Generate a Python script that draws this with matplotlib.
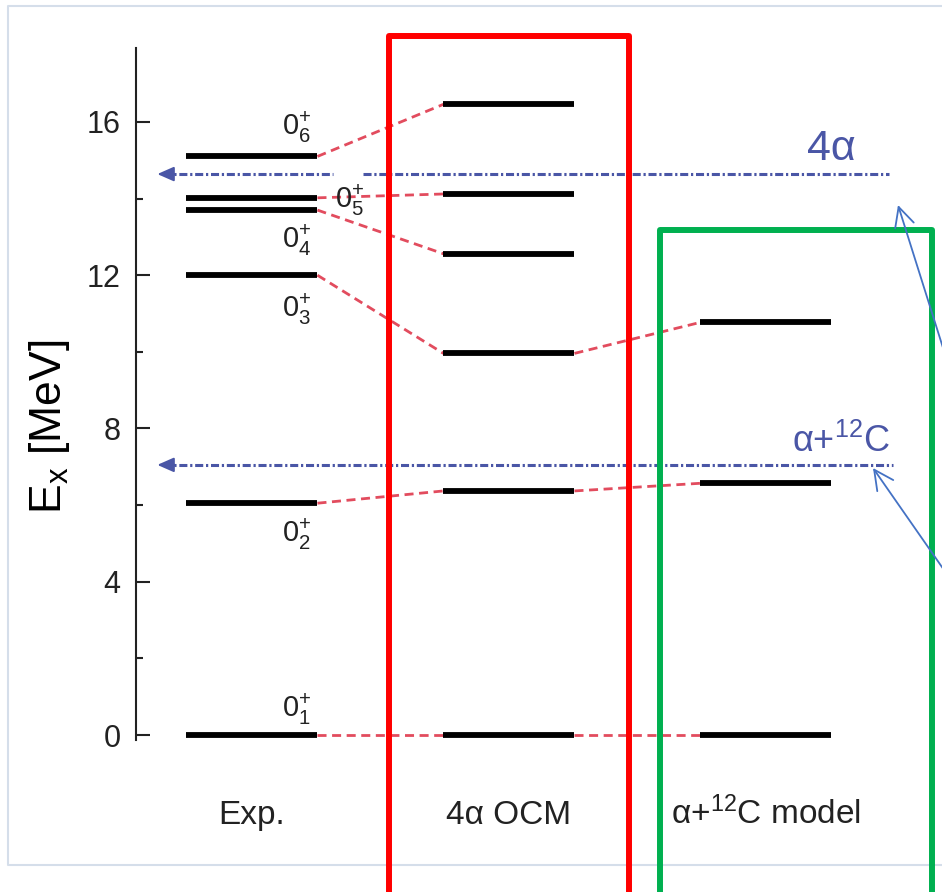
import matplotlib
matplotlib.use('Agg')
import matplotlib.pyplot as plt
from matplotlib import font_manager
from matplotlib.ticker import MultipleLocator

# 0+ states of 16O, excitation energy in MeV
exp_levels = [0.0, 6.05, 12.0, 13.7, 14.02, 15.1]
exp_names = [r'$0^{+}_{1}$', r'$0^{+}_{2}$', r'$0^{+}_{3}$',
             r'$0^{+}_{4}$', r'$0^{+}_{5}$', r'$0^{+}_{6}$']
ocm_levels = [0.0, 6.37, 9.96, 12.56, 14.12, 16.46]
model_levels = [0.0, 6.57, 10.77]
columns = ['Exp.', '4α OCM', r'α+$^{12}$C model']

thresholds = [14.64, 7.05]
threshold_names = ['4α', r'α+$^{12}$C']

# fonts: narrow sans if there is one
names = {f.name for f in font_manager.fontManager.ttflist}
narrow = 'Liberation Sans Narrow' if 'Liberation Sans Narrow' in names else 'Liberation Sans'
plt.rcParams['font.family'] = [narrow, 'DejaVu Sans']
plt.rcParams['mathtext.fontset'] = 'custom'
plt.rcParams['mathtext.rm'] = narrow
plt.rcParams['mathtext.it'] = narrow + ':italic'
plt.rcParams['lines.scale_dashes'] = False

red_dash = '#e24c5e'
thr_blue = '#4a56a6'
w = 0.255  # half width of a level bar

fig = plt.figure(figsize=(9.42, 8.92), dpi=100)
ax = fig.add_axes([136 / 942, 152 / 892, 806 / 942, 692 / 892])
ax.set_xlim(-0.451, 2.685)
ax.set_ylim(-0.13, 17.93)

# level bars
for col, lev in enumerate([exp_levels, ocm_levels, model_levels]):
    ax.hlines(lev, col - w, col + w, color='black', lw=4.2, zorder=3)

# correspondence lines
for a, b in zip(exp_levels, ocm_levels):
    ax.plot([w, 1 - w], [a, b], color=red_dash, lw=2.0, dashes=(6.5, 4), zorder=2)
for a, b in zip(ocm_levels, model_levels):
    ax.plot([1 + w, 2 - w], [a, b], color=red_dash, lw=2.0, dashes=(6.5, 4), zorder=2)

# state labels of the experimental levels (dx from column, dy from level)
name_pos = [(0.117, 0.47), (0.117, -1.01), (0.117, -1.09),
            (0.117, -0.98), (0.323, -0.26), (0.117, 0.56)]
for lev, name, (dx, dy) in zip(exp_levels, exp_names, name_pos):
    ax.text(dx, lev + dy, name, fontsize=21, ha='left', va='baseline', color='#222222')

# thresholds
thr_segments = [[(-0.345, 0.315), (0.432, 2.479)], [(-0.345, 2.494)]]
thr_text_pos = [(2.16, 0.37), (2.101, 0.34)]
thr_sizes = [31, 26]
for e, name, segs, (tx, dy), fs in zip(thresholds, threshold_names, thr_segments,
                                       thr_text_pos, thr_sizes):
    for x0, x1 in segs:
        ax.plot([x0, x1], [e, e], color=thr_blue, lw=2.2,
                dashes=(5.8, 2.0, 1.6, 2.0), zorder=2)
    ax.annotate('', xy=(-0.368, e), xytext=(-0.30, e),
                arrowprops=dict(arrowstyle='-|>,head_length=0.5,head_width=0.22',
                                mutation_scale=20, color=thr_blue, lw=1.5,
                                shrinkA=0, shrinkB=0))
    ax.text(tx, e + dy, name, fontsize=fs, ha='left', va='baseline', color=thr_blue,
            family=['Liberation Sans', 'DejaVu Sans'])

# column names
for col, name in enumerate(columns):
    ax.text(col, -2.33, name, fontsize=24, ha='center', va='baseline', color='#222222')

ax.yaxis.set_major_locator(MultipleLocator(4))
ax.yaxis.set_minor_locator(MultipleLocator(2))
ax.tick_params(axis='y', which='major', direction='in', length=10, width=1.5,
               pad=11, labelsize=22, colors='#222222')
ax.tick_params(axis='y', which='minor', direction='in', length=5, width=1.5,
               colors='#222222')
ax.set_xticks([])
for side in ['top', 'right', 'bottom']:
    ax.spines[side].set_visible(False)
ax.spines['left'].set_linewidth(1.5)
ax.spines['left'].set_color('#222222')

fig.text(50 / 942, 1 - 427 / 892, r'E$_{\rm x}$ [MeV]', rotation=90, ha='center',
         va='center', fontsize=32, family=['Liberation Sans', 'DejaVu Sans'])

# frame, highlight boxes and pointers, in pixel coordinates
ov = fig.add_axes([0, 0, 1, 1], zorder=5)
ov.set_xlim(0, 942)
ov.set_ylim(892, 0)
ov.axis('off')
ov.patch.set_alpha(0)
ov.plot([950, 8, 8, 950], [6, 6, 865, 865], color='#d5deea', lw=1.5)
ov.plot([388.5, 388.5, 629, 629], [900, 36, 36, 900], color='#ff0000', lw=4.3,
        solid_joinstyle='round')
ov.plot([660, 660, 932, 932], [900, 230, 230, 900], color='#00b050', lw=4.3,
        solid_joinstyle='round')
for tip, tail in [((898, 205), (950, 370)), ((873, 468), (951, 580))]:
    ov.annotate('', xy=tip, xytext=tail,
                arrowprops=dict(arrowstyle='->,head_length=0.5,head_width=0.25',
                                mutation_scale=28, color='#4472c4', lw=1.3,
                                shrinkA=0, shrinkB=0))

fig.savefig('out.png', dpi=100)
